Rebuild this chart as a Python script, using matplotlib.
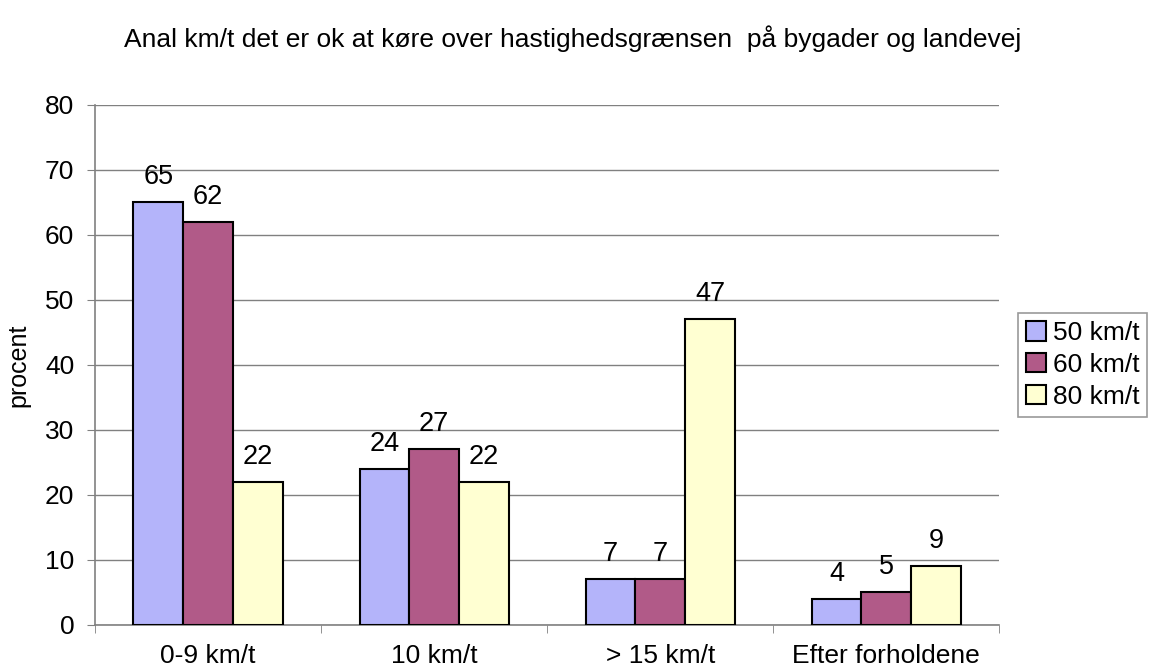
import numpy as np
import matplotlib.pyplot as plt

plt.rcParams['font.family'] = ['Liberation Sans', 'DejaVu Sans']

categories = ["0-9 km/t", "10 km/t", "> 15 km/t", "Efter forholdene"]
series = ["50 km/t", "60 km/t", "80 km/t"]
values = [
    [65, 24, 7, 4],
    [62, 27, 7, 5],
    [22, 22, 47, 9],
]
colors = ["#b4b4fa", "#b15a88", "#ffffd2"]

fig = plt.figure(figsize=(11.52, 6.71), dpi=100)
ax = fig.add_axes([0.0825, 0.0686, 0.785, 0.775])

x = np.arange(len(categories))
w = 0.22
for i, (name, vals) in enumerate(zip(series, values)):
    pos = x + (i - 1) * w
    ax.bar(pos, vals, width=w, color=colors[i], edgecolor="black", linewidth=1.5,
           label=name, zorder=3)
    for p, v in zip(pos, vals):
        ax.text(p, v + 1.9, str(v), ha="center", va="bottom", fontsize=19.5)

ax.set_xlim(-0.5, len(categories) - 0.5)
ax.set_ylim(0, 80)
ax.set_yticks(range(0, 81, 10))
ax.tick_params(axis="y", labelsize=19, length=6, color="#808080", pad=9)
ax.set_xticks(x)
ax.set_xticklabels(categories, fontsize=19)
ax.tick_params(axis="x", length=0, pad=14)
ax.set_xticks(np.arange(-0.5, len(categories), 1), minor=True)
ax.tick_params(axis="x", which="minor", length=6, color="#808080")
ax.grid(axis="y", color="#808080", linewidth=1, zorder=0)
for s in ["top", "right"]:
    ax.spines[s].set_visible(False)
for s in ["left", "bottom"]:
    ax.spines[s].set_color("#808080")
    ax.spines[s].set_linewidth(1.2)
ax.set_ylabel("procent", fontsize=18, labelpad=10)

fig.text(0.497, 0.943, "Anal km/t det er ok at køre over hastighedsgrænsen  på bygader og landevej",
         ha="center", va="center", fontsize=19)

leg = ax.legend(loc="center left", bbox_to_anchor=(1.021, 0.5), fontsize=19,
                frameon=True, fancybox=False, edgecolor="#808080",
                handlelength=0.75, handleheight=0.75, handletextpad=0.25,
                borderpad=0.3, labelspacing=0.3, borderaxespad=0)
leg.get_frame().set_linewidth(1.2)

fig.savefig("out.png", dpi=100)
